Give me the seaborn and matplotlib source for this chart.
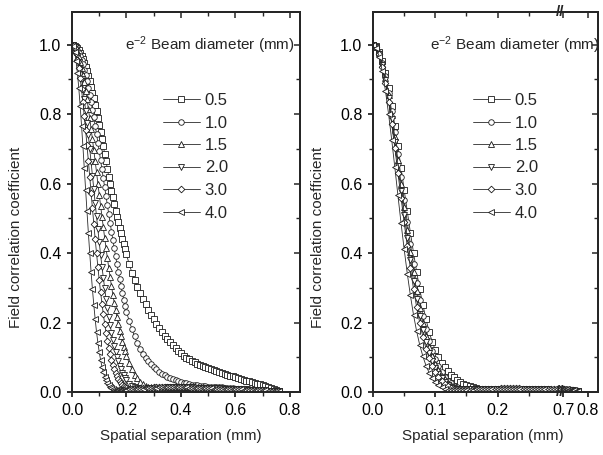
import numpy as np
import matplotlib
matplotlib.use("Agg")
import matplotlib.pyplot as plt
from matplotlib.ticker import FixedLocator, FormatStrFormatter
from matplotlib.transforms import blended_transform_factory
import seaborn as sns

# === Data ===
beam_diameters = ['0.5', '1.0', '1.5', '2.0', '3.0', '4.0']

# left panel: spatial separation (mm)
x_left = [0.000, 0.005, 0.010, 0.015, 0.020, 0.025, 0.030, 0.035, 0.040, 0.045,
          0.050, 0.055, 0.060, 0.065, 0.070, 0.075, 0.080, 0.085, 0.090, 0.095,
          0.100, 0.105, 0.110, 0.115, 0.120, 0.125, 0.130, 0.135, 0.140, 0.145,
          0.150, 0.155, 0.160, 0.165, 0.170, 0.175, 0.180, 0.185, 0.190, 0.195,
          0.200,
          0.21, 0.22, 0.23, 0.24, 0.25, 0.26, 0.27, 0.28, 0.29, 0.30,
          0.31, 0.32, 0.33, 0.34, 0.35, 0.36, 0.37, 0.38, 0.39, 0.40,
          0.41, 0.42, 0.43, 0.44, 0.45, 0.46, 0.47, 0.48, 0.49, 0.50,
          0.51, 0.52, 0.53, 0.54, 0.55, 0.56, 0.57, 0.58, 0.59, 0.60,
          0.61, 0.62, 0.63, 0.64, 0.65, 0.66, 0.67, 0.68, 0.69, 0.70,
          0.71, 0.72, 0.73, 0.74, 0.75, 0.76]

corr_l_05 = [1.000, 0.999, 0.997, 0.994, 0.990, 0.984, 0.977, 0.968, 0.959, 0.948,
             0.936, 0.923, 0.909, 0.895, 0.879, 0.862, 0.845, 0.827, 0.808, 0.789,
             0.769, 0.749, 0.728, 0.707, 0.686, 0.664, 0.642, 0.620, 0.598, 0.578,
             0.560, 0.540, 0.522, 0.505, 0.489, 0.473, 0.457, 0.441, 0.426, 0.411,
             0.396,
             0.368, 0.344, 0.322, 0.303, 0.285, 0.268, 0.252, 0.237, 0.223, 0.210,
             0.197, 0.185, 0.173, 0.162, 0.152, 0.143, 0.134, 0.126, 0.118, 0.111,
             0.105, 0.099, 0.094, 0.089, 0.085, 0.081, 0.078, 0.075, 0.072, 0.069,
             0.066, 0.063, 0.060, 0.057, 0.054, 0.051, 0.049, 0.047, 0.045, 0.043,
             0.040, 0.038, 0.035, 0.033, 0.031, 0.029, 0.027, 0.024, 0.022, 0.019,
             0.016, 0.013, 0.011, 0.008, 0.005, 0.003]
corr_l_10 = [1.000, 0.999, 0.996, 0.992, 0.985, 0.977, 0.967, 0.956, 0.943, 0.928,
             0.912, 0.895, 0.876, 0.856, 0.835, 0.813, 0.791, 0.767, 0.743, 0.718,
             0.693, 0.667, 0.641, 0.615, 0.589, 0.563, 0.537, 0.512, 0.487, 0.462,
             0.438, 0.414, 0.391, 0.368, 0.346, 0.325, 0.304, 0.285, 0.266, 0.248,
             0.230,
             0.205, 0.181, 0.160, 0.140, 0.123, 0.110, 0.099, 0.089, 0.080, 0.072,
             0.065, 0.059, 0.053, 0.048, 0.044, 0.041, 0.037, 0.034, 0.031, 0.029,
             0.027, 0.025, 0.023, 0.021, 0.020, 0.019, 0.018, 0.017, 0.016, 0.015,
             0.015, 0.014, 0.014, 0.013, 0.013, 0.012, 0.012, 0.011, 0.011, 0.010,
             0.010, 0.009, 0.009, 0.008, 0.008, 0.007, 0.007, 0.006, 0.006, 0.005,
             0.005, 0.004, 0.004, 0.003, 0.003, 0.002]
corr_l_15 = [1.000, 0.999, 0.994, 0.987, 0.978, 0.965, 0.950, 0.933, 0.914, 0.892,
             0.868, 0.843, 0.816, 0.788, 0.758, 0.728, 0.696, 0.665, 0.633, 0.600,
             0.568, 0.536, 0.505, 0.474, 0.443, 0.414, 0.385, 0.357, 0.330, 0.305,
             0.280, 0.257, 0.235, 0.215, 0.195, 0.177, 0.160, 0.145, 0.130, 0.117,
             0.104,
             0.083, 0.065, 0.050, 0.039, 0.030, 0.023, 0.018, 0.015, 0.013, 0.012,
             0.012, 0.012, 0.012, 0.012, 0.012, 0.013, 0.013, 0.013, 0.013, 0.013,
             0.013, 0.013, 0.013, 0.013, 0.012, 0.012, 0.012, 0.012, 0.012, 0.011,
             0.011, 0.011, 0.011, 0.010, 0.010, 0.010, 0.010, 0.009, 0.009, 0.009,
             0.008, 0.008, 0.008, 0.007, 0.007, 0.007, 0.006, 0.006, 0.005, 0.005,
             0.005, 0.004, 0.004, 0.003, 0.003, 0.002]
corr_l_20 = [1.000, 0.998, 0.992, 0.981, 0.967, 0.949, 0.927, 0.902, 0.874, 0.843,
             0.810, 0.775, 0.739, 0.701, 0.662, 0.623, 0.584, 0.544, 0.506, 0.468,
             0.431, 0.395, 0.361, 0.329, 0.298, 0.268, 0.241, 0.216, 0.192, 0.171,
             0.150, 0.132, 0.116, 0.101, 0.088, 0.076, 0.065, 0.056, 0.048, 0.041,
             0.035,
             0.024, 0.017, 0.013, 0.011, 0.010, 0.010, 0.010, 0.011, 0.011, 0.011,
             0.012, 0.012, 0.012, 0.012, 0.013, 0.013, 0.013, 0.013, 0.013, 0.013,
             0.013, 0.013, 0.013, 0.013, 0.012, 0.012, 0.012, 0.012, 0.012, 0.012,
             0.012, 0.011, 0.011, 0.011, 0.011, 0.010, 0.010, 0.010, 0.009, 0.009,
             0.009, 0.008, 0.008, 0.008, 0.007, 0.007, 0.006, 0.006, 0.006, 0.005,
             0.005, 0.004, 0.004, 0.003, 0.003, 0.002]
corr_l_30 = [1.000, 0.997, 0.989, 0.975, 0.956, 0.932, 0.903, 0.871, 0.834, 0.795,
             0.754, 0.710, 0.666, 0.620, 0.574, 0.529, 0.485, 0.441, 0.400, 0.360,
             0.322, 0.287, 0.254, 0.224, 0.196, 0.171, 0.148, 0.127, 0.109, 0.093,
             0.078, 0.066, 0.055, 0.046, 0.038, 0.031, 0.026, 0.021, 0.017, 0.014,
             0.011,
             0.009, 0.009, 0.010, 0.010, 0.011, 0.011, 0.012, 0.012, 0.012, 0.013,
             0.013, 0.014, 0.014, 0.014, 0.014, 0.014, 0.014, 0.014, 0.014, 0.014,
             0.013, 0.013, 0.013, 0.013, 0.013, 0.012, 0.012, 0.012, 0.012, 0.012,
             0.012, 0.011, 0.011, 0.011, 0.010, 0.010, 0.010, 0.009, 0.009, 0.009,
             0.008, 0.008, 0.008, 0.007, 0.007, 0.007, 0.006, 0.006, 0.005, 0.005,
             0.004, 0.004, 0.003, 0.003, 0.002, 0.002]
corr_l_40 = [1.000, 0.995, 0.979, 0.952, 0.917, 0.874, 0.823, 0.767, 0.708, 0.645,
             0.582, 0.520, 0.459, 0.401, 0.346, 0.296, 0.251, 0.210, 0.173, 0.142,
             0.115, 0.092, 0.073, 0.057, 0.044, 0.034, 0.026, 0.019, 0.014, 0.011,
             0.008, 0.007, 0.007, 0.006, 0.006, 0.006, 0.006, 0.006, 0.007, 0.007,
             0.007,
             0.008, 0.008, 0.009, 0.009, 0.010, 0.010, 0.011, 0.011, 0.012, 0.012,
             0.012, 0.013, 0.013, 0.013, 0.013, 0.013, 0.013, 0.013, 0.013, 0.013,
             0.013, 0.013, 0.012, 0.012, 0.012, 0.012, 0.012, 0.011, 0.011, 0.011,
             0.011, 0.010, 0.010, 0.010, 0.010, 0.009, 0.009, 0.009, 0.009, 0.008,
             0.008, 0.008, 0.007, 0.007, 0.007, 0.006, 0.006, 0.006, 0.005, 0.005,
             0.005, 0.004, 0.004, 0.003, 0.003, 0.002]

# right panel (broken axis between 0.3 and 0.7 mm)
x_right = [0.000, 0.005, 0.010, 0.015, 0.020, 0.025, 0.030, 0.035, 0.040, 0.045,
           0.050, 0.055, 0.060, 0.065, 0.070, 0.075, 0.080, 0.085, 0.090, 0.095,
           0.100, 0.105, 0.110, 0.115, 0.120, 0.125, 0.130, 0.135, 0.140, 0.145,
           0.150, 0.155, 0.160, 0.165, 0.170, 0.175, 0.180, 0.185, 0.190, 0.195,
           0.200, 0.205, 0.210, 0.215, 0.220, 0.225, 0.230, 0.235, 0.240, 0.245,
           0.250, 0.255, 0.260, 0.265, 0.270, 0.275, 0.280, 0.285, 0.290, 0.295,
           0.300,
           0.700, 0.705, 0.710, 0.715, 0.720, 0.725, 0.730, 0.735, 0.740, 0.745,
           0.750, 0.755, 0.760]

corr_r_05 = [1.000, 0.995, 0.979, 0.952, 0.917, 0.874, 0.823, 0.767, 0.708, 0.645,
             0.582, 0.520, 0.459, 0.401, 0.346, 0.296, 0.251, 0.210, 0.173, 0.145,
             0.120, 0.100, 0.084, 0.071, 0.060, 0.050, 0.042, 0.035, 0.029, 0.024,
             0.020, 0.017, 0.014, 0.012, 0.010, 0.009, 0.008, 0.008, 0.008, 0.008,
             0.008, 0.008, 0.008, 0.007, 0.007, 0.007, 0.007, 0.007, 0.007, 0.007,
             0.007, 0.007, 0.006, 0.006, 0.006, 0.006, 0.006, 0.006, 0.006, 0.006,
             0.006,
             0.006, 0.006, 0.005, 0.005, 0.005, 0.004, 0.004, 0.004, 0.003, 0.003,
             0.003, 0.002, 0.002]
corr_r_10 = [1.000, 0.994, 0.977, 0.948, 0.910, 0.862, 0.808, 0.748, 0.685, 0.619,
             0.553, 0.489, 0.427, 0.368, 0.314, 0.264, 0.220, 0.181, 0.147, 0.118,
             0.094, 0.074, 0.057, 0.044, 0.033, 0.025, 0.018, 0.013, 0.010, 0.009,
             0.008, 0.008, 0.008, 0.008, 0.008, 0.008, 0.008, 0.008, 0.008, 0.008,
             0.008, 0.007, 0.007, 0.007, 0.007, 0.007, 0.007, 0.007, 0.007, 0.007,
             0.007, 0.007, 0.007, 0.006, 0.006, 0.006, 0.006, 0.006, 0.006, 0.006,
             0.006,
             0.006, 0.006, 0.005, 0.005, 0.005, 0.005, 0.004, 0.004, 0.004, 0.003,
             0.003, 0.003, 0.002]
corr_r_15 = [1.000, 0.994, 0.975, 0.945, 0.904, 0.854, 0.797, 0.734, 0.668, 0.600,
             0.533, 0.467, 0.404, 0.345, 0.291, 0.242, 0.199, 0.162, 0.130, 0.103,
             0.080, 0.062, 0.047, 0.036, 0.027, 0.020, 0.014, 0.010, 0.009, 0.009,
             0.009, 0.009, 0.009, 0.009, 0.008, 0.008, 0.008, 0.008, 0.008, 0.008,
             0.008, 0.008, 0.008, 0.008, 0.008, 0.008, 0.008, 0.008, 0.008, 0.007,
             0.007, 0.007, 0.007, 0.007, 0.007, 0.007, 0.007, 0.007, 0.007, 0.006,
             0.006,
             0.006, 0.006, 0.006, 0.005, 0.005, 0.005, 0.004, 0.004, 0.004, 0.003,
             0.003, 0.002, 0.002]
corr_r_20 = [1.000, 0.993, 0.973, 0.941, 0.898, 0.845, 0.785, 0.720, 0.651, 0.580,
             0.511, 0.443, 0.380, 0.321, 0.268, 0.220, 0.179, 0.143, 0.113, 0.088,
             0.068, 0.052, 0.039, 0.029, 0.021, 0.015, 0.011, 0.010, 0.010, 0.010,
             0.010, 0.010, 0.009, 0.009, 0.009, 0.009, 0.009, 0.009, 0.009, 0.009,
             0.009, 0.009, 0.009, 0.009, 0.009, 0.009, 0.009, 0.009, 0.008, 0.008,
             0.008, 0.008, 0.008, 0.008, 0.008, 0.008, 0.008, 0.007, 0.007, 0.007,
             0.007,
             0.007, 0.007, 0.006, 0.006, 0.006, 0.005, 0.005, 0.005, 0.004, 0.004,
             0.003, 0.003, 0.002]
corr_r_30 = [1.000, 0.993, 0.972, 0.937, 0.891, 0.836, 0.772, 0.703, 0.631, 0.559,
             0.488, 0.419, 0.356, 0.297, 0.245, 0.199, 0.159, 0.125, 0.098, 0.075,
             0.057, 0.042, 0.031, 0.022, 0.016, 0.011, 0.010, 0.010, 0.010, 0.010,
             0.010, 0.010, 0.010, 0.010, 0.010, 0.010, 0.010, 0.010, 0.010, 0.010,
             0.010, 0.011, 0.011, 0.011, 0.011, 0.011, 0.011, 0.011, 0.010, 0.010,
             0.010, 0.010, 0.010, 0.009, 0.009, 0.009, 0.009, 0.009, 0.008, 0.008,
             0.008,
             0.008, 0.008, 0.007, 0.007, 0.007, 0.006, 0.006, 0.005, 0.005, 0.004,
             0.004, 0.003, 0.003]
corr_r_40 = [1.000, 0.991, 0.965, 0.923, 0.867, 0.800, 0.726, 0.647, 0.566, 0.486,
             0.411, 0.341, 0.278, 0.222, 0.175, 0.135, 0.103, 0.076, 0.056, 0.040,
             0.028, 0.020, 0.013, 0.009, 0.007, 0.006, 0.006, 0.006, 0.006, 0.006,
             0.007, 0.007, 0.007, 0.008, 0.008, 0.008, 0.009, 0.009, 0.009, 0.010,
             0.010, 0.010, 0.010, 0.010, 0.010, 0.010, 0.010, 0.010, 0.010, 0.010,
             0.010, 0.010, 0.010, 0.010, 0.010, 0.010, 0.009, 0.009, 0.009, 0.009,
             0.009,
             0.009, 0.008, 0.008, 0.008, 0.007, 0.007, 0.006, 0.006, 0.005, 0.005,
             0.004, 0.004, 0.003]

left_series = [corr_l_05, corr_l_10, corr_l_15, corr_l_20, corr_l_30, corr_l_40]
right_series = [corr_r_05, corr_r_10, corr_r_15, corr_r_20, corr_r_30, corr_r_40]

# === Style ===
marker_styles = ['s', 'o', '^', 'v', 'D', '<']
marker_sizes = [4.0, 4.0, 4.2, 4.2, 3.4, 4.2]
line_color = '#2a2a2a'

sns.set_style('ticks')
plt.rcParams['font.family'] = ['Liberation Sans', 'DejaVu Sans']
plt.rcParams['mathtext.fontset'] = 'custom'
plt.rcParams['mathtext.rm'] = 'Liberation Sans'
plt.rcParams['mathtext.it'] = 'Liberation Sans'
plt.rcParams['axes.linewidth'] = 1.3
FS_TICK = 11.5
FS_LABEL = 11
FS_LEG = 12
FS_TITLE = 11


# broken x scale for the right panel: 0-0.3 normal, 0.69-0.84 compressed
def brk_fwd(x):
    x = np.asarray(x, dtype=float)
    return np.where(x <= 0.3, x,
                    np.where(x >= 0.69, 0.301 + (x - 0.69) * 0.4,
                             0.3 + (x - 0.3) * 0.001 / 0.39))


def brk_inv(u):
    u = np.asarray(u, dtype=float)
    return np.where(u <= 0.3, u,
                    np.where(u >= 0.301, 0.69 + (u - 0.301) / 0.4,
                             0.3 + (u - 0.3) * 0.39 / 0.001))


def draw_curves(ax, x, series):
    for lab, y, mk, ms in zip(beam_diameters, series, marker_styles, marker_sizes):
        sns.lineplot(x=x, y=y, ax=ax, color=line_color, lw=0.6,
                     marker=mk, ms=ms, mfc='white', mec='#1a1a1a', mew=0.6,
                     label=lab, sort=False, estimator=None)


def finish_axes(ax, xlim, xmajor, xminor, scale=None):
    ax.set_ylim(0, 1.094)
    ax.set_xlim(*xlim)
    ax.xaxis.set_major_locator(FixedLocator(xmajor))
    ax.xaxis.set_minor_locator(FixedLocator(xminor))
    ax.xaxis.set_major_formatter(FormatStrFormatter('%.1f'))
    ax.yaxis.set_major_locator(FixedLocator([0, 0.2, 0.4, 0.6, 0.8, 1.0]))
    ax.yaxis.set_minor_locator(FixedLocator([0.1, 0.3, 0.5, 0.7, 0.9]))
    ax.yaxis.set_major_formatter(FormatStrFormatter('%.1f'))
    ax.tick_params(which='major', direction='out', length=3.6, width=1.1,
                   labelsize=FS_TICK, pad=4, colors='black')
    ax.tick_params(which='minor', direction='out', length=2.6, width=1.0)
    ax.set_xlabel('Spatial separation (mm)', fontsize=FS_LABEL)
    ax.set_ylabel('Field correlation coefficient', fontsize=FS_LABEL)

    # inward ticks on the top and right spines
    top = ax.twiny()
    if scale is not None:
        top.set_xscale('function', functions=scale)
    top.set_xlim(ax.get_xlim())
    top.xaxis.set_major_locator(FixedLocator(xmajor))
    top.xaxis.set_minor_locator(FixedLocator(xminor))
    top.tick_params(which='major', direction='in', length=4.5, width=1.1, labeltop=False)
    top.tick_params(which='minor', direction='in', length=3.0, width=1.0)
    right = ax.twinx()
    right.set_ylim(ax.get_ylim())
    right.yaxis.set_major_locator(FixedLocator([0, 0.2, 0.4, 0.6, 0.8, 1.0]))
    right.yaxis.set_minor_locator(FixedLocator([0.1, 0.3, 0.5, 0.7, 0.9]))
    right.tick_params(which='major', direction='in', length=4.5, width=1.1, labelright=False)
    right.tick_params(which='minor', direction='in', length=3.0, width=1.0)


def add_legend(ax, fig, x_title, x_handle):
    handles, labels = ax.get_legend_handles_labels()
    ax.legend(handles, labels, loc='upper left', frameon=False, fontsize=FS_LEG,
              bbox_to_anchor=(x_handle / 603, 1 - 93 / 455),
              bbox_transform=fig.transFigure, borderaxespad=0, borderpad=0,
              handlelength=2.2, handletextpad=0.3, labelspacing=0.45,
              numpoints=1)
    fig.text(x_title / 603, 1 - 45 / 455, r'e$^{\mathregular{-2}}$ Beam diameter (mm)',
             fontsize=FS_TITLE, ha='left', va='center')


fig = plt.figure(figsize=(6.03, 4.55), dpi=100)
ax1 = fig.add_axes([72 / 603, 1 - 392 / 455, 228 / 603, 380 / 455])
ax2 = fig.add_axes([373 / 603, 1 - 392 / 455, 225 / 603, 380 / 455])

# left panel
draw_curves(ax1, x_left, left_series)
finish_axes(ax1, (0, 0.837), [0, 0.2, 0.4, 0.6, 0.8], [0.1, 0.3, 0.5, 0.7])
add_legend(ax1, fig, 125, 163)

# right panel with broken axis
draw_curves(ax2, x_right, right_series)
ax2.set_xscale('function', functions=(brk_fwd, brk_inv))
finish_axes(ax2, (0, 0.84), [0, 0.1, 0.2, 0.7, 0.8], [0.05, 0.15, 0.25],
            scale=(brk_fwd, brk_inv))
add_legend(ax2, fig, 430, 473)

for ax in (ax1, ax2):
    ax.yaxis.set_label_coords(-0.215, 0.408)
ax1.xaxis.set_label_coords(0.478, -0.097)
ax2.xaxis.set_label_coords(0.489, -0.097)

# break marks
blend = blended_transform_factory(ax2.transData, ax2.transAxes)
for yy in (1.0, 0.0):
    ax2.text(0.5, yy, '//', transform=blend, ha='center', va='center',
             fontsize=11, fontweight='bold', clip_on=False, zorder=10)

fig.savefig('out.png', dpi=100)
